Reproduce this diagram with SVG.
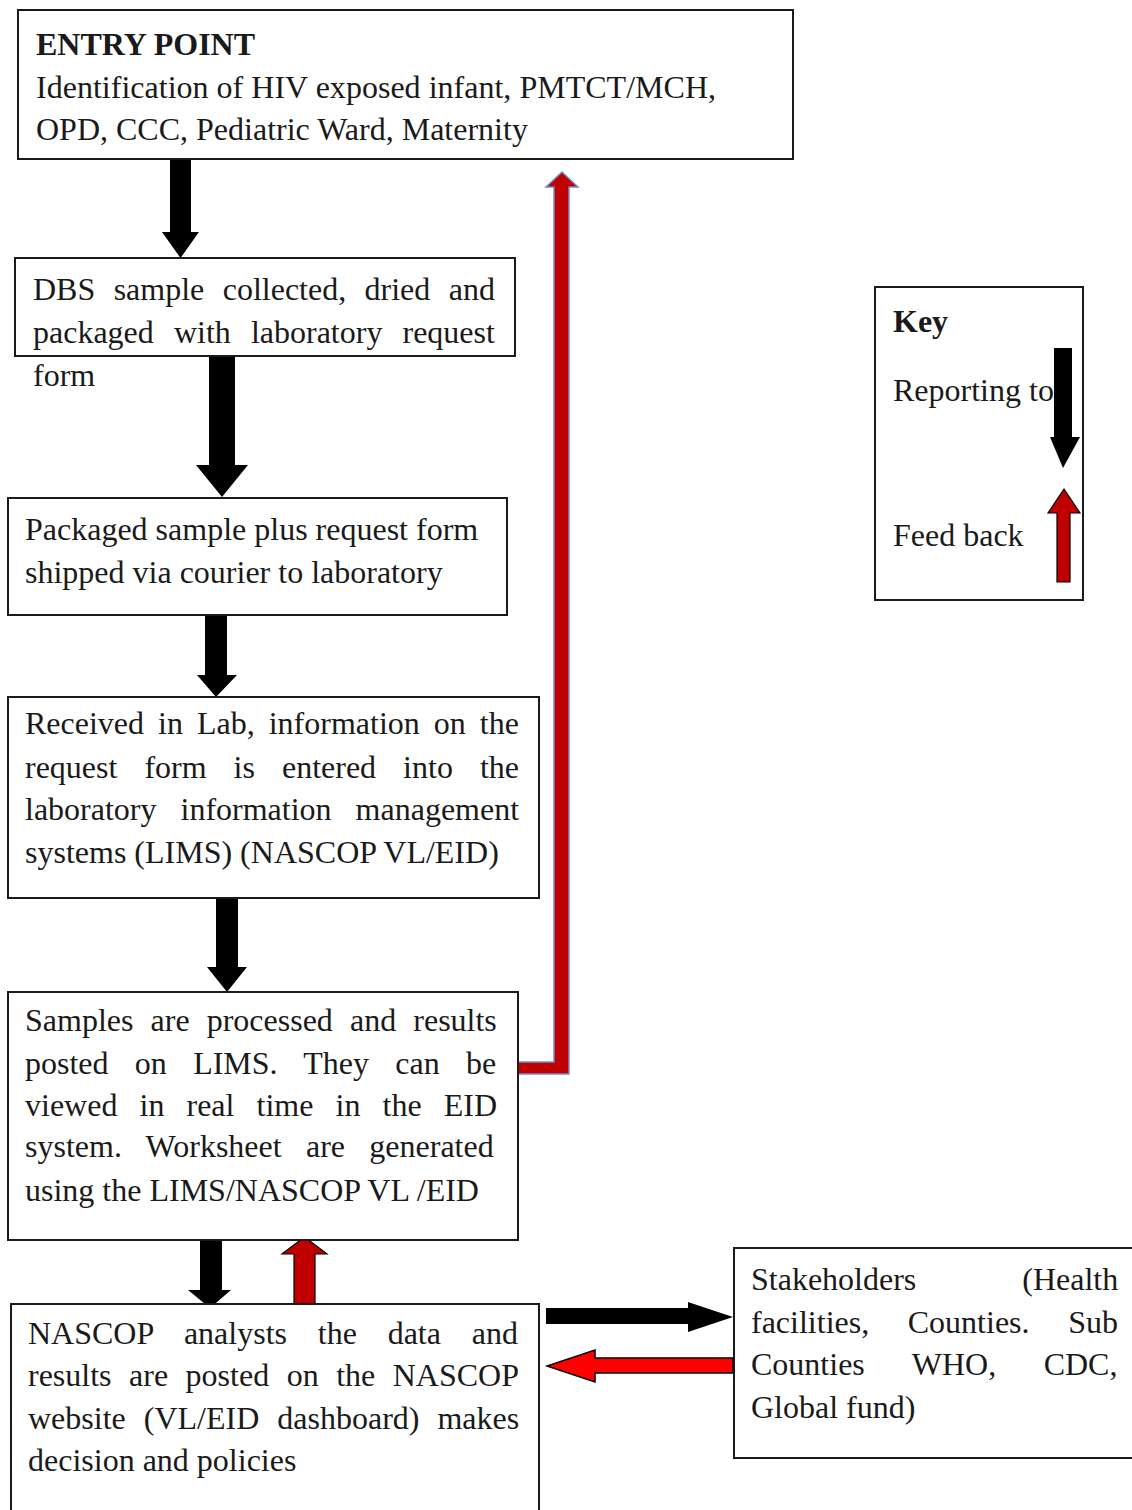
<svg xmlns="http://www.w3.org/2000/svg" width="1132" height="1510" viewBox="0 0 1132 1510">
<style>
.box{fill:#fff;stroke:#1a1a1a;stroke-width:2}
.t{font-family:"Liberation Serif","Times New Roman",serif;font-size:32px;fill:#1a1a1a}
.b{font-weight:bold}
.blk{fill:#000;stroke:none}
.dred{fill:#C00000;stroke:#000;stroke-width:1.2}
.red{fill:#FF0000;stroke:#000;stroke-width:1.5}
.fb{fill:#C00000;stroke:#6f8fc4;stroke-width:1.5}
</style>
<rect width="1132" height="1510" fill="#fff"/>
<g id="connectors">
<polygon class="blk" points="170,159 191,159 191,232 199,232 180.5,258 162,232 170,232"/>
<polygon class="blk" points="209,356 235,356 235,465 248,465 222,497 196,465 209,465"/>
<polygon class="blk" points="205,615 227,615 227,675 237,675 216,697 197,675 205,675"/>
<polygon class="blk" points="216,898 238,898 238,967 247,967 227,992 207,967 216,967"/>
<polygon class="blk" points="200,1240 222,1240 222,1290 231,1290 210,1308 188,1290 200,1290"/>
<polygon class="dred" points="294,1304 315,1304 315,1254 327,1254 304.5,1237 282,1254 294,1254"/>
<polygon class="fb" points="517,1062 554,1062 554,187 546,187 562,172 578,187 569,187 569,1074 517,1074"/>
<polygon class="blk" points="546,1308 688,1308 688,1302 733,1317 688,1332 688,1324 546,1324"/>
<polygon class="red" points="733,1358 595,1358 595,1350 547,1366 595,1382 595,1373 733,1373"/>
</g>
<g id="entry">
<rect class="box" x="18" y="10" width="775" height="149"/>
<text class="t b" x="36" y="55">ENTRY POINT</text>
<text class="t" x="36" y="98" textLength="680" lengthAdjust="spacing">Identification of HIV exposed infant, PMTCT/MCH,</text>
<text class="t" x="36" y="140">OPD, CCC, Pediatric Ward, Maternity</text>
</g>
<g id="dbs">
<rect class="box" x="15" y="258" width="500" height="98"/>
<text class="t" x="33" y="300" word-spacing="10.4">DBS sample collected, dried and</text>
<text class="t" x="33" y="343" word-spacing="12.1">packaged with laboratory request</text>
<text class="t" x="33" y="386">form</text>
</g>
<g id="shipped">
<rect class="box" x="8" y="498" width="499" height="117"/>
<text class="t" x="25" y="540">Packaged sample plus request form</text>
<text class="t" x="25" y="583">shipped via courier to laboratory</text>
</g>
<g id="received">
<rect class="box" x="8" y="697" width="531" height="201"/>
<text class="t" x="25" y="734" word-spacing="6">Received in Lab, information on the</text>
<text class="t" x="25" y="778" word-spacing="19">request form is entered into the</text>
<text class="t" x="25" y="820" word-spacing="16">laboratory information management</text>
<text class="t" x="25" y="863">systems (LIMS) (NASCOP VL/EID)</text>
</g>
<g id="processed">
<rect class="box" x="8" y="992" width="510" height="248"/>
<text class="t" x="25" y="1031" word-spacing="9.1">Samples are processed and results</text>
<text class="t" x="25" y="1074" word-spacing="18.3">posted on LIMS. They can be</text>
<text class="t" x="25" y="1116" word-spacing="14.1">viewed in real time in the EID</text>
<text class="t" x="25" y="1157" word-spacing="16.3">system. Worksheet are generated</text>
<text class="t" x="25" y="1201">using the LIMS/NASCOP VL /EID</text>
</g>
<g id="nascop">
<rect class="box" x="11" y="1304" width="528" height="230"/>
<text class="t" x="28" y="1344" word-spacing="22.8">NASCOP analysts the data and</text>
<text class="t" x="28" y="1386" word-spacing="9.5">results are posted on the NASCOP</text>
<text class="t" x="28" y="1429" word-spacing="10">website (VL/EID dashboard) makes</text>
<text class="t" x="28" y="1471">decision and policies</text>
</g>
<g id="stakeholders">
<rect class="box" x="734" y="1248" width="420" height="210"/>
<text class="t" x="751" y="1290" word-spacing="98">Stakeholders (Health</text>
<text class="t" x="751" y="1333" word-spacing="30.6">facilities, Counties. Sub</text>
<text class="t" x="751" y="1375" word-spacing="39.5">Counties WHO, CDC,</text>
<text class="t" x="751" y="1418">Global fund)</text>
</g>
<g id="key">
<rect class="box" x="875" y="287" width="208" height="313"/>
<text class="t b" x="893" y="332">Key</text>
<text class="t" x="893" y="401">Reporting to</text>
<text class="t" x="893" y="546">Feed back</text>
<polygon class="blk" points="1054,348 1072,348 1072,437 1080,437 1063,468 1050,437 1054,437"/>
<polygon class="dred" points="1057,582 1070,582 1070,513 1080,513 1064,489 1048,513 1057,513"/>
</g>
</svg>
